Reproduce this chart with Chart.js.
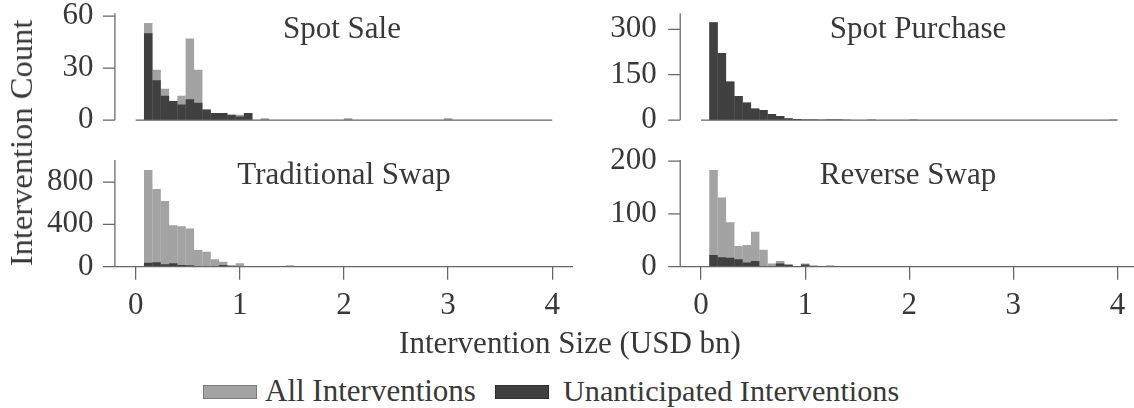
<!DOCTYPE html>
<html>
<head>
<meta charset="utf-8">
<script src="https://cdn.jsdelivr.net/npm/chart.js@4.4.1/dist/chart.umd.min.js"></script>
<style>
html,body{margin:0;padding:0;background:#fff;overflow:hidden;width:1134px;height:408px;}
#wrap{position:relative;width:1134px;height:408px;overflow:hidden;background:#fff;}
canvas{position:absolute;}
.t{position:absolute;white-space:nowrap;font-family:'Liberation Serif',serif;font-size:31px;line-height:30px;color:#383838;}
.patch{position:absolute;box-sizing:border-box;}
</style>
</head>
<body>
<div id="wrap">
  <canvas id="c0" width="580" height="140" style="left:0;top:0"></canvas>
  <canvas id="c1" width="580" height="140" style="left:565px;top:0"></canvas>
  <canvas id="c2" width="580" height="190" style="left:0;top:140px"></canvas>
  <canvas id="c3" width="580" height="190" style="left:565px;top:140px"></canvas>

  <div class="t" id="title0" style="left:342px;top:13px;transform:translateX(-50%)"></div>
  <div class="t" id="title1" style="left:918px;top:13px;transform:translateX(-50%)"></div>
  <div class="t" id="title2" style="left:344px;top:159px;transform:translateX(-50%)"></div>
  <div class="t" id="title3" style="left:908px;top:159px;transform:translateX(-50%)"></div>

  <div class="t" id="ylab" style="left:21px;top:143px;font-size:32.5px;transform:translate(-50%,-50%) rotate(-90deg)"></div>
  <div class="t" id="xlab" style="left:570px;top:328px;transform:translateX(-50%)"></div>

  <div class="patch" style="left:203px;top:385px;width:54px;height:14px;background:#a3a3a3;border:1px solid #7a7a7a"></div>
  <div class="t" id="leg0" style="left:265px;top:376px"></div>
  <div class="patch" style="left:495px;top:385px;width:54px;height:14px;background:#404040;border:1px solid #2e2e2e"></div>
  <div class="t" id="leg1" style="left:563px;top:376px;font-size:30.2px"></div>
</div>
<script>
// ---- histogram bins (USD bn): bin i spans [binStart + i*binWidth, binStart + (i+1)*binWidth]
const binStart = 0.08;
const binWidth = 0.08;
const xTicks = [0, 1, 2, 3, 4];
const seriesNames = ['All Interventions', 'Unanticipated Interventions'];
const panelTitles = ['Spot Sale', 'Spot Purchase', 'Traditional Swap', 'Reverse Swap'];
const xAxisTitle = 'Intervention Size (USD bn)';
const yAxisTitle = 'Intervention Count';

// ---- counts per bin (50 bins)
const spotSaleAll = [56,29,18,11,14,47,29,6,4,4, 3,3,4,0,1,0,0,0,0,0, 0,0,0,0,1,0,0,0,0,0, 0,0,0,0,0,0,1,0,0,0, 0,0,0,0,0,0,0,0,0,0];
const spotSaleUnant = [50,23,14,11,9,12,10,6,4,4, 3,2,4,0,0,0,0,0,0,0, 0,0,0,0,0,0,0,0,0,0, 0,0,0,0,0,0,0,0,0,0, 0,0,0,0,0,0,0,0,0,0];

const spotPurchaseAll = [323,222,127,79,58,38,33,20,13,6, 3,2,2,1,2,2,1,0,0,1, 0,0,0,0,1,0,0,0,0,0, 0,0,0,0,0,0,0,0,0,0, 0,0,0,0,0,0,0,0,1,0];
const spotPurchaseUnant = [323,222,127,79,58,38,33,20,13,6, 3,2,2,1,2,2,1,0,0,1, 0,0,0,0,1,0,0,0,0,0, 0,0,0,0,0,0,0,0,0,0, 0,0,0,0,0,0,0,0,1,0];

const tradSwapAll = [913,734,620,391,381,362,158,142,70,47, 16,32,6,5,4,3,3,10,2,1, 1,1,0,0,1,0,0,0,0,0, 0,0,0,0,0,0,0,0,0,0, 0,0,0,0,0,0,0,0,0,0];
const tradSwapUnant = [38,41,22,32,16,14,7,6,7,16, 3,3,1,1,1,1,1,9,0,0, 0,0,0,0,0,0,0,0,0,0, 0,0,0,0,0,0,0,0,0,0, 0,0,0,0,0,0,0,0,0,0];

const reverseSwapAll = [183,131,84,39,41,66,32,6,11,5, 1,6,2,0,2,1,0,0,0,1, 0,0,1,0,0,0,0,0,0,0, 0,0,0,0,0,0,0,0,0,0, 0,1,0,0,0,0,0,0,0,0];
const reverseSwapUnant = [22,18,17,14,8,11,1,0,6,3, 0,4,2,0,2,1,0,0,0,0, 0,0,0,0,0,0,0,0,0,0, 0,0,0,0,0,0,0,0,0,0, 0,0,0,0,0,0,0,0,0,0];

// ---- y axis ticks per panel
const spotSaleYTicks = [0, 30, 60];
const spotPurchaseYTicks = [0, 150, 300];
const tradSwapYTicks = [0, 400, 800];
const reverseSwapYTicks = [0, 100, 200];

// ---- text
['title0','title1','title2','title3'].forEach((id, i) => document.getElementById(id).textContent = panelTitles[i]);
document.getElementById('xlab').textContent = xAxisTitle;
document.getElementById('ylab').textContent = yAxisTitle;
document.getElementById('leg0').textContent = seriesNames[0];
document.getElementById('leg1').textContent = seriesNames[1];

// ---- styling / layout
const FONT = "'Liberation Serif', serif";
const TEXT = '#383838';
const SPINE = '#666666';
const GREY = '#a3a3a3';
const DARK = '#404040';
Chart.defaults.font.family = FONT;
Chart.defaults.color = TEXT;

function toPoints(counts) {
  return counts.map((c, i) => ({ x: binStart + binWidth * (i + 0.5), y: c }));
}

const spinePlugin = {
  id: 'spines',
  afterDraw(chart, args, o) {
    const { ctx, chartArea } = chart;
    const xs = chart.scales.x, ys = chart.scales.y;
    const sx = xs.getPixelForValue(-0.2);
    const y0 = ys.getPixelForValue(0);
    ctx.save();
    ctx.strokeStyle = SPINE;
    ctx.lineWidth = 1.25;
    ctx.beginPath();
    ctx.moveTo(sx, chartArea.top);
    ctx.lineTo(sx, y0);
    for (const v of o.yTicks) {
      const py = ys.getPixelForValue(v);
      ctx.moveTo(sx - 12, py);
      ctx.lineTo(sx, py);
    }
    if (o.bottom) {
      ctx.moveTo(chartArea.left, y0);
      ctx.lineTo(chartArea.right, y0);
    } else {
      ctx.moveTo(xs.getPixelForValue(xTicks[0]), y0);
      ctx.lineTo(xs.getPixelForValue(xTicks[xTicks.length - 1]), y0);
    }
    ctx.stroke();
    ctx.restore();
  }
};

function makePanel(id, cfg) {
  const bottom = cfg.bottom;
  new Chart(document.getElementById(id), {
    type: 'bar',
    data: {
      datasets: [
        { label: seriesNames[1], data: toPoints(cfg.unant), backgroundColor: DARK, order: 0,
          grouped: false, barPercentage: 1.02, categoryPercentage: 1, borderWidth: 0 },
        { label: seriesNames[0], data: toPoints(cfg.all), backgroundColor: GREY, order: 1,
          grouped: false, barPercentage: 1.02, categoryPercentage: 1, borderWidth: 0 }
      ]
    },
    options: {
      responsive: false,
      animation: false,
      devicePixelRatio: 1,
      events: [],
      layout: { autoPadding: false, padding: { top: cfg.padTop, right: cfg.padRight, left: 0, bottom: 0 } },
      plugins: { legend: { display: false }, tooltip: { enabled: false }, spines: { yTicks: cfg.yTicks, bottom } },
      scales: {
        x: {
          type: 'linear', min: -0.3, max: 4.2, offset: false,
          afterBuildTicks: (s) => { s.ticks = xTicks.map(v => ({ value: v })); },
          afterFit: (s) => { s.height = cfg.xHeight; },
          ticks: { display: bottom, padding: 11, font: { size: 31, lineHeight: 1 }, color: TEXT,
                   callback: (v) => String(v), maxRotation: 0 },
          grid: { display: bottom, offset: false, drawOnChartArea: false, drawTicks: bottom, tickLength: 13,
                  color: SPINE, lineWidth: 1.25 },
          border: { display: false }
        },
        y: {
          type: 'linear', min: 0, max: cfg.yMax,
          afterBuildTicks: (s) => { s.ticks = cfg.yTicks.map(v => ({ value: v })); },
          afterFit: (s) => { s.width = cfg.yWidth; },
          ticks: { padding: 0, font: { size: 31, lineHeight: 0.2 }, color: TEXT, callback: (v) => String(v) },
          grid: { display: false, drawTicks: true, tickLength: cfg.yPad },
          border: { display: false }
        }
      }
    },
    plugins: [spinePlugin]
  });
}

makePanel('c0', { all: spotSaleAll, unant: spotSaleUnant, yTicks: spotSaleYTicks, yMax: 61.56,
  padTop: 13.3, padRight: 7, xHeight: 20, yWidth: 104.5, yPad: 11, bottom: false });
makePanel('c1', { all: spotPurchaseAll, unant: spotPurchaseUnant, yTicks: spotPurchaseYTicks, yMax: 353,
  padTop: 13.3, padRight: 6.7, xHeight: 20, yWidth: 104.8, yPad: 13, bottom: false });
makePanel('c2', { all: tradSwapAll, unant: tradSwapUnant, yTicks: tradSwapYTicks, yMax: 1008,
  padTop: 20, padRight: 7, xHeight: 63.3, yWidth: 104.5, yPad: 11, bottom: true });
makePanel('c3', { all: reverseSwapAll, unant: reverseSwapUnant, yTicks: reverseSwapYTicks, yMax: 201.9,
  padTop: 20, padRight: 6.7, xHeight: 63.3, yWidth: 104.8, yPad: 13, bottom: true });
</script>
</body>
</html>
